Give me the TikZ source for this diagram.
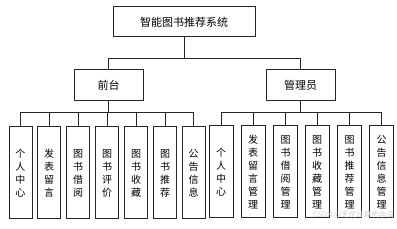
\documentclass[tikz,border=0pt]{standalone}
\usepackage{fontspec}
\setmainfont{Noto Sans CJK SC}
\usetikzlibrary{calc}
\tikzset{
  box/.style={draw=black!85, line width=1pt, fill=white, inner sep=0pt, align=center},
  top/.style={box, minimum width=142pt, minimum height=30pt, font=\fontsize{11}{12}\selectfont},
  mid/.style={box, minimum width=69pt, minimum height=31pt, font=\fontsize{11}{12}\selectfont},
  leaf/.style={box, minimum height=92pt, font=\fontsize{10}{13}\selectfont},
  lw/.style={leaf, minimum width=23pt},
  rw/.style={leaf, minimum width=24pt},
  conn/.style={draw=black!85, line width=1pt}
}
\begin{document}
\begin{tikzpicture}[x=1pt,y=-1pt]
\useasboundingbox (0,0) rectangle (397,229);
\node[top] (root) at (184,22) {智能图书推荐系统};
\node[mid] (front) at (108.5,85.5) {前台};
\node[mid] (admin) at (300.5,85.5) {管理员};
\coordinate (b0) at (0,59);
\coordinate (b1) at (0,113);
% left leaves
\node[lw] (l1) at (20.5,173) {个\\人\\中\\心};
\node[lw] (l2) at (49,173) {发\\表\\留\\言};
\node[lw] (l3) at (78,173) {图\\书\\借\\阅};
\node[lw] (l4) at (107,173) {图\\书\\评\\价};
\node[lw] (l5) at (136,173) {图\\书\\收\\藏};
\node[lw] (l6) at (165,173) {图\\书\\推\\荐};
\node[lw] (l7) at (193.5,173) {公\\告\\信\\息};
% right leaves
\node[rw] (r1) at (221,172) {个\\人\\中\\心};
\node[rw] (r2) at (253,172) {发\\表\\留\\言\\管\\理};
\node[rw] (r3) at (285.5,172) {图\\书\\借\\阅\\管\\理};
\node[rw] (r4) at (317,172) {图\\书\\收\\藏\\管\\理};
\node[rw] (r5) at (349.5,172) {图\\书\\推\\荐\\管\\理};
\node[rw] (r6) at (381.5,172) {公\\告\\信\\息\\管\\理};
% connectors
\draw[conn] (root.south) -- (root.south |- b0);
\draw[conn] (root.south |- b0) -| (front.north);
\draw[conn] (root.south |- b0) -| (admin.north);
\draw[conn] (front.south) -- (front.south |- b1);
\foreach \n in {l1,l2,l3,l4,l5,l6,l7}
  \draw[conn] (front.south |- b1) -| (\n.north);
\draw[conn] (admin.south) -- (admin.south |- b1);
\foreach \n in {r1,r2,r3,r4,r5,r6}
  \draw[conn] (admin.south |- b1) -| (\n.north);
\node[text=black!18, font=\fontsize{7.5}{8}\selectfont, anchor=east, inner sep=0pt] (wm) at (394,214.5) {CSDN @无忧计算机毕设};
\end{tikzpicture}
\end{document}
